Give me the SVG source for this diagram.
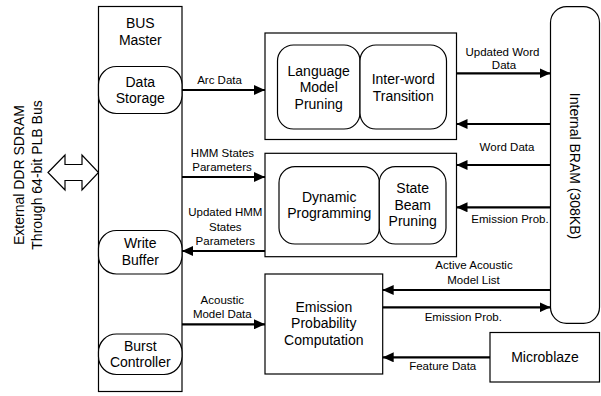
<svg xmlns="http://www.w3.org/2000/svg" width="601" height="396" viewBox="0 0 601 396">
<style>
.box{fill:#fff;stroke:#000;stroke-width:1.2}
.t{font-family:"Liberation Sans",Arial,sans-serif;font-size:14px;text-anchor:middle;fill:#000}
.l{font-family:"Liberation Sans",Arial,sans-serif;font-size:11.5px;text-anchor:middle;fill:#000}
.ar{stroke:#000;stroke-width:2.2;fill:none;marker-end:url(#ah)}
</style>
<defs>
<marker id="ah" markerUnits="userSpaceOnUse" markerWidth="11" markerHeight="10" refX="11" refY="5" orient="auto">
<path d="M0,0 L11,5 L0,10 z" fill="#000"/>
</marker>
</defs>
<rect width="601" height="396" fill="#fff"/>
<g id="external">
<polygon class="box" points="48,172.5 65,155 65,164.5 82,164.5 82,155 98.5,172.5 82,190 82,180.5 65,180.5 65,190"/>
<text class="t" transform="translate(24,175) rotate(-90)">External DDR SDRAM</text>
<text class="t" transform="translate(42,175) rotate(-90)">Through 64-bit PLB Bus</text>
</g>
<g id="bus-master">
<rect class="box" x="98.5" y="6.5" width="83.5" height="385"/>
<text class="t" x="140.3" y="28.3">BUS</text>
<text class="t" x="140.3" y="45">Master</text>
</g>
<g id="data-storage">
<rect class="box" x="98.5" y="66.5" width="83.5" height="47" rx="18" ry="18"/>
<text class="t" x="140.3" y="86.5">Data</text>
<text class="t" x="140.3" y="103.3">Storage</text>
</g>
<g id="write-buffer">
<rect class="box" x="98.5" y="230.5" width="83.5" height="43.5" rx="18" ry="18"/>
<text class="t" x="140.3" y="247.7">Write</text>
<text class="t" x="140.3" y="265">Buffer</text>
</g>
<g id="burst-controller">
<rect class="box" x="98.5" y="334" width="83.5" height="40.5" rx="18" ry="18"/>
<text class="t" x="140.3" y="350.7">Burst</text>
<text class="t" x="140.3" y="366.7">Controller</text>
</g>
<g id="word-block">
<rect class="box" x="265" y="33" width="191.5" height="106.5"/>
</g>
<g id="lm-pruning">
<rect class="box" x="277.5" y="45" width="82.5" height="84" rx="16" ry="16"/>
<text class="t" x="318.7" y="75.7">Language</text>
<text class="t" x="318.7" y="92.3">Model</text>
<text class="t" x="318.7" y="109">Pruning</text>
</g>
<g id="inter-word">
<rect class="box" x="360" y="45" width="86.5" height="84" rx="16" ry="16"/>
<text class="t" x="403.2" y="84">Inter-word</text>
<text class="t" x="403.2" y="100.7">Transition</text>
</g>
<g id="state-block">
<rect class="box" x="265" y="153.3" width="191.5" height="103.4"/>
</g>
<g id="dynamic-programming">
<rect class="box" x="279" y="166.7" width="100.3" height="77.3" rx="16" ry="16"/>
<text class="t" x="329.2" y="201.7">Dynamic</text>
<text class="t" x="329.2" y="217.7">Programming</text>
</g>
<g id="state-beam-pruning">
<rect class="box" x="379.3" y="166.7" width="66.7" height="77.3" rx="16" ry="16"/>
<text class="t" x="412.7" y="193.3">State</text>
<text class="t" x="412.7" y="210">Beam</text>
<text class="t" x="412.7" y="226">Pruning</text>
</g>
<g id="emission">
<rect class="box" x="265" y="274" width="117.7" height="100"/>
<text class="t" x="323.8" y="311.7">Emission</text>
<text class="t" x="323.8" y="328.3">Probability</text>
<text class="t" x="323.8" y="345">Computation</text>
</g>
<g id="bram">
<rect class="box" x="550.5" y="6.7" width="49" height="316.6" rx="16" ry="16"/>
<text class="t" transform="translate(570,166) rotate(90)">Internal BRAM (308KB)</text>
</g>
<g id="microblaze">
<rect class="box" x="490" y="332.5" width="109.5" height="49.5"/>
<text class="t" x="545" y="361.7">Microblaze</text>
</g>
<g id="connectors">
<line class="ar" x1="182" y1="90" x2="265" y2="90"/>
<text class="l" x="219.5" y="84">Arc Data</text>
<line class="ar" x1="182" y1="177" x2="265" y2="177"/>
<text class="l" x="222.5" y="157.3">HMM States</text>
<text class="l" x="222" y="170.7">Parameters</text>
<line class="ar" x1="265" y1="251" x2="182" y2="251"/>
<text class="l" x="225.3" y="216">Updated HMM</text>
<text class="l" x="225.3" y="230.7">States</text>
<text class="l" x="225.3" y="245">Parameters</text>
<line class="ar" x1="182" y1="324.3" x2="265" y2="324.3"/>
<text class="l" x="222.3" y="304">Acoustic</text>
<text class="l" x="222.3" y="318.3">Model Data</text>
<line class="ar" x1="456.5" y1="73.3" x2="550.5" y2="73.3"/>
<text class="l" x="502.5" y="56">Updated Word</text>
<text class="l" x="504" y="69">Data</text>
<line class="ar" x1="550.5" y1="124" x2="456.5" y2="124"/>
<line class="ar" x1="550.5" y1="165" x2="456.5" y2="165"/>
<text class="l" x="507" y="150.7">Word Data</text>
<line class="ar" x1="550.5" y1="207.3" x2="456.5" y2="207.3"/>
<text class="l" x="510" y="223.3">Emission Prob.</text>
<line class="ar" x1="550.5" y1="290" x2="382.7" y2="290"/>
<text class="l" x="474" y="269.3">Active Acoustic</text>
<text class="l" x="473.5" y="284">Model List</text>
<line class="ar" x1="382.7" y1="307.3" x2="550.5" y2="307.3"/>
<text class="l" x="463.3" y="320.7">Emission Prob.</text>
<line class="ar" x1="490" y1="357.3" x2="382.7" y2="357.3"/>
<text class="l" x="442.7" y="370">Feature Data</text>
</g>
</svg>
